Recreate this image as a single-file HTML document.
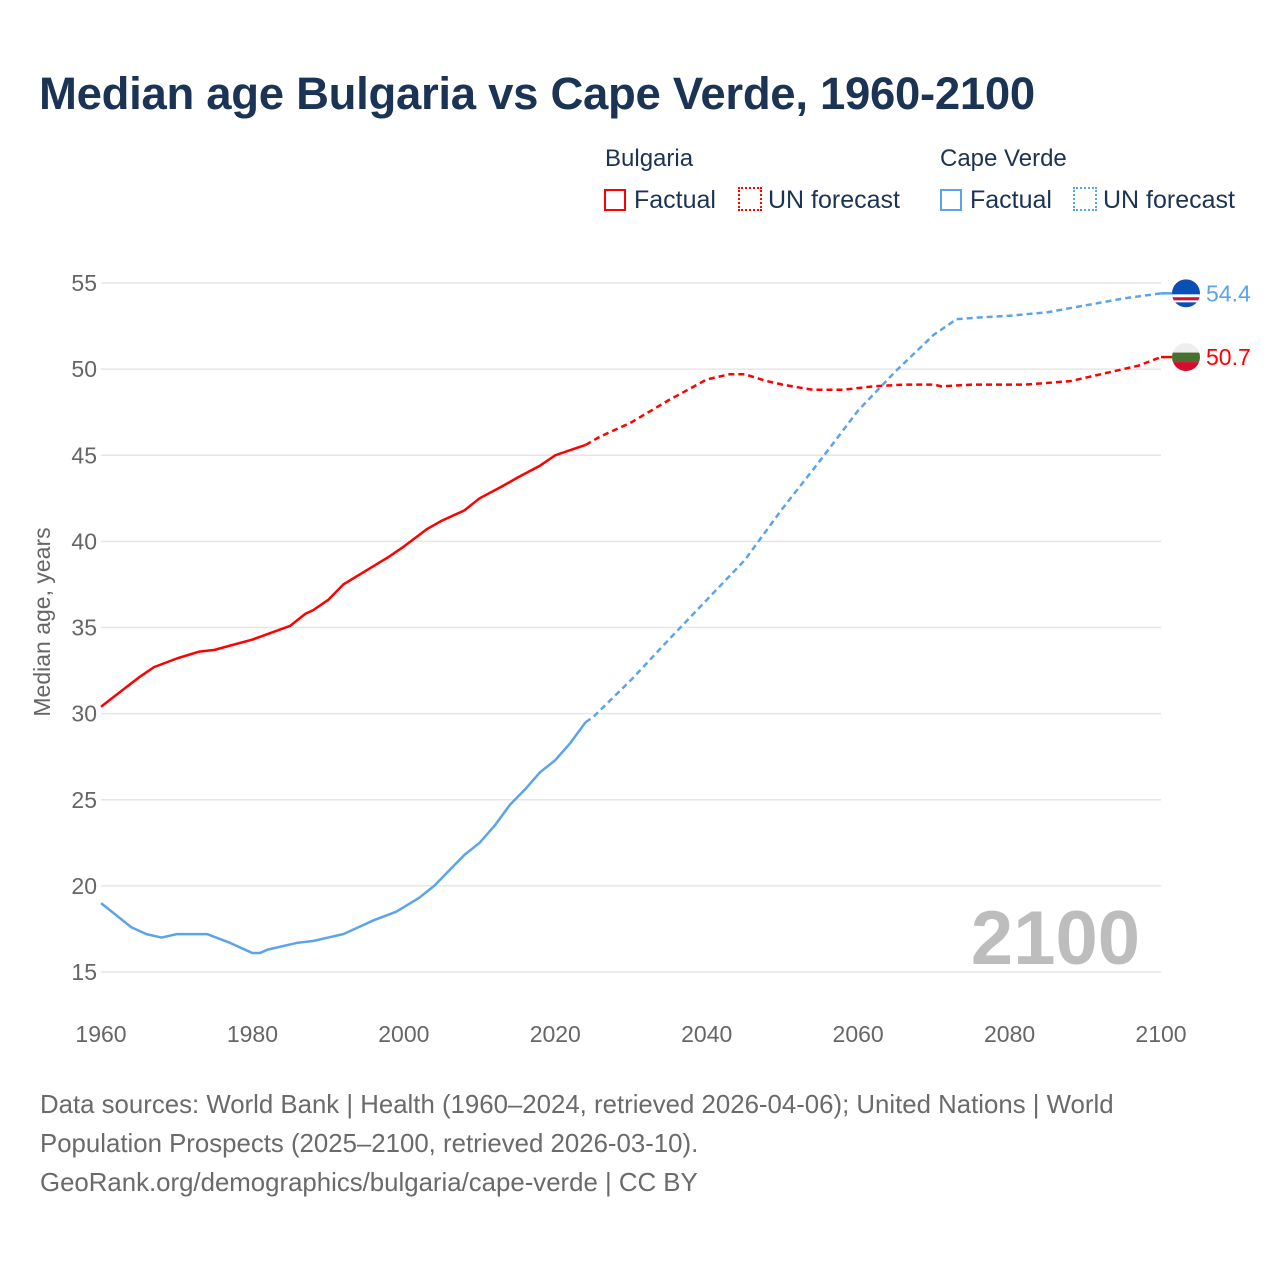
<!DOCTYPE html>
<html><head><meta charset="utf-8"><style>
body{margin:0;background:#fff;font-family:"Liberation Sans",sans-serif;}
#wrap{position:relative;width:1280px;height:1280px;overflow:hidden;}
.t{position:absolute;white-space:nowrap;}
</style></head><body>
<div id="wrap">
<div class="t" style="left:39px;top:68px;font-size:45.5px;font-weight:bold;color:#1b3354;letter-spacing:-0.3px">Median age Bulgaria vs Cape Verde, 1960-2100</div>
<div class="t" style="left:605px;top:145px;font-size:24px;color:#1b3354">Bulgaria</div>
<div class="t" style="left:940px;top:145px;font-size:24px;color:#1b3354">Cape Verde</div>
<div class="t" style="left:604px;top:186px;font-size:25px;color:#1b3354"><span style="display:inline-block;width:22px;height:22px;border:2px solid #f00;box-sizing:border-box;vertical-align:-3px;margin-right:8px"></span>Factual</div>
<div class="t" style="left:738px;top:186px;font-size:25px;color:#1b3354"><span style="display:inline-block;width:24px;height:24px;border:2px dotted #f00;box-sizing:border-box;vertical-align:-3px;margin-right:6px"></span>UN forecast</div>
<div class="t" style="left:940px;top:186px;font-size:25px;color:#1b3354"><span style="display:inline-block;width:22px;height:22px;border:2px solid #5ba4ec;box-sizing:border-box;vertical-align:-3px;margin-right:8px"></span>Factual</div>
<div class="t" style="left:1073px;top:186px;font-size:25px;color:#1b3354"><span style="display:inline-block;width:24px;height:24px;border:2px dotted #5ba4ec;box-sizing:border-box;vertical-align:-3px;margin-right:6px"></span>UN forecast</div>
<svg id="chart" width="1280" height="1280" style="position:absolute;left:0;top:0"></svg>
<div class="t" style="left:40px;top:1086px;font-size:25.8px;line-height:39px;color:#6a6a6a">Data sources: World Bank | Health (1960–2024, retrieved 2026-04-06); United Nations | World<br>Population Prospects (2025–2100, retrieved 2026-03-10).<br>GeoRank.org/demographics/bulgaria/cape-verde | CC BY</div>
</div>
<script>
const bgYears=[1960,1965,1967,1970,1973,1975,1980,1985,1987,1988,1990,1992,1995,1998,2000,2003,2005,2008,2010,2013,2015,2018,2020,2022,2024];
const bgVals=[30.4,32.1,32.7,33.2,33.6,33.7,34.3,35.1,35.8,36.0,36.6,37.5,38.3,39.1,39.7,40.7,41.2,41.8,42.5,43.2,43.7,44.4,45.0,45.3,45.6];
const bgFYears=[2024,2026,2030,2035,2040,2043,2045,2048,2050,2054,2058,2062,2066,2070,2071,2075,2082,2085,2088,2092,2095,2097,2100];
const bgFVals=[45.6,46.1,46.9,48.2,49.4,49.7,49.7,49.3,49.1,48.8,48.8,49.0,49.1,49.1,49.0,49.1,49.1,49.2,49.3,49.7,50.0,50.2,50.7];
const cvYears=[1960,1962,1964,1966,1968,1970,1974,1977,1980,1981,1982,1986,1988,1990,1992,1994,1996,1999,2002,2004,2006,2008,2010,2012,2014,2016,2018,2020,2022,2024];
const cvVals=[19.0,18.3,17.6,17.2,17.0,17.2,17.2,16.7,16.1,16.1,16.3,16.7,16.8,17.0,17.2,17.6,18.0,18.5,19.3,20.0,20.9,21.8,22.5,23.5,24.7,25.6,26.6,27.3,28.3,29.5];
const cvFYears=[2024,2025,2030,2035,2040,2045,2050,2055,2060,2065,2070,2073,2076,2080,2085,2090,2095,2100];
const cvFVals=[29.5,29.8,31.95,34.3,36.6,38.9,41.9,44.7,47.6,49.9,52.0,52.9,53.0,53.1,53.3,53.7,54.1,54.4];
const yTicks=[15,20,25,30,35,40,45,50,55];
const xTicks=[1960,1980,2000,2020,2040,2060,2080,2100];
const X=y=>101+(y-1960)*(1060/140);
const Y=v=>972-(v-15)*(689/40);
const svg=document.getElementById('chart');
const NS='http://www.w3.org/2000/svg';
function mk(tag,attrs){const e=document.createElementNS(NS,tag);for(const k in attrs)e.setAttribute(k,attrs[k]);svg.appendChild(e);return e;}
yTicks.forEach(t=>{
 const l=mk('line',{x1:101,x2:1161,y1:Y(t),y2:Y(t),stroke:'#e6e6e6','stroke-width':1.5});
 
 
 const tx=mk('text',{x:97,y:Y(t)+8,'text-anchor':'end','font-size':23,fill:'#666','font-family':'Liberation Sans, sans-serif'});
 tx.textContent=t;
 
 
});
xTicks.forEach(t=>{
 const tx=mk('text',{x:X(t),y:1042,'text-anchor':'middle','font-size':23,fill:'#666','font-family':'Liberation Sans, sans-serif'});
 tx.textContent=t;
 
 
});
const yt=mk('text',{x:0,y:0,transform:'translate(50,622) rotate(-90)','text-anchor':'middle','font-size':23,fill:'#666','font-family':'Liberation Sans, sans-serif'});
yt.textContent='Median age, years';


const yr=mk('text',{x:1140,y:964,'text-anchor':'end','font-size':76,'font-weight':'bold',fill:'#bdbdbd','font-family':'Liberation Sans, sans-serif'});
yr.textContent='2100';


function line(xs,vs,col,dash,name){
 const p=mk('polyline',{points:xs.map((x,i)=>X(x)+','+Y(vs[i])).join(' '),fill:'none',stroke:col,'stroke-width':2.5,'stroke-linejoin':'round'});
 if(dash)p.setAttribute('stroke-dasharray','6,4');
 
 
}
line(bgYears,bgVals,'#ff0000',false,'bulgaria-factual-line');
line(bgFYears,bgFVals,'#ff0000',true,'bulgaria-forecast-line');
line(cvYears,cvVals,'#5ba4ec',false,'cape-verde-factual-line');
line(cvFYears,cvFVals,'#5ba4ec',true,'cape-verde-forecast-line');
const cvE=cvFVals[cvFVals.length-1], bgE=bgFVals[bgFVals.length-1];
function flag(v,name,colors){
 const cy=Y(v),cx=1186,g=document.createElementNS(NS,'g');svg.appendChild(g);
 
 
 const cp=document.createElementNS(NS,'clipPath');cp.setAttribute('id','c'+name);
 const c=document.createElementNS(NS,'circle');c.setAttribute('cx',cx);c.setAttribute('cy',cy);c.setAttribute('r',14);cp.appendChild(c);g.appendChild(cp);
 colors.forEach(([y0,h,col])=>{const r=document.createElementNS(NS,'rect');r.setAttribute('x',cx-14);r.setAttribute('y',cy-14+y0);r.setAttribute('width',28);r.setAttribute('height',h);r.setAttribute('fill',col);r.setAttribute('clip-path','url(#c'+name+')');g.appendChild(r);});
}
mk('line',{x1:1161,x2:1172,y1:Y(cvE),y2:Y(cvE),stroke:'#5ba4ec','stroke-width':2.5});
mk('line',{x1:1161,x2:1172,y1:Y(bgE),y2:Y(bgE),stroke:'#ff0000','stroke-width':2.5});
flag(cvE,'cape-verde-flag',[[0,28,'#0a4fb5'],[15,3,'#fff'],[18,3,'#d21034'],[21,2,'#fff']]);
flag(bgE,'bulgaria-flag',[[0,9.5,'#eee'],[9.5,9.5,'#4a7031'],[19,9,'#d50c2b']]);
const l1=mk('text',{x:1206,y:Y(cvE)+8,'font-size':23,fill:'#5ba4ec','font-family':'Liberation Sans, sans-serif'});
l1.textContent=cvE.toFixed(1);


const l2=mk('text',{x:1206,y:Y(bgE)+8,'font-size':23,fill:'#ff0000','font-family':'Liberation Sans, sans-serif'});
l2.textContent=bgE.toFixed(1);


</script>
</body></html>
